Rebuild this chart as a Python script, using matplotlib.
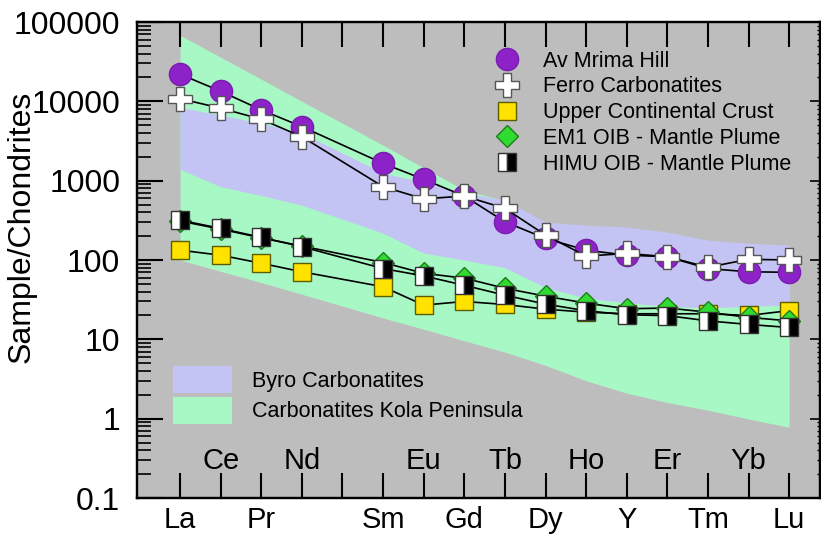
import numpy as np
import matplotlib.pyplot as plt
import matplotlib.transforms as mtransforms
from matplotlib.lines import Line2D
from matplotlib.patches import Patch
from matplotlib.ticker import LogLocator, NullFormatter

plt.rcParams['font.family'] = ['Liberation Sans', 'DejaVu Sans']

# REE order used on the diagram (Pm has a tick but no data)
elements = ['La', 'Ce', 'Pr', 'Nd', 'Pm', 'Sm', 'Eu', 'Gd', 'Tb', 'Dy', 'Ho', 'Y', 'Er', 'Tm', 'Yb', 'Lu']
inner_labels = ['Ce', 'Nd', 'Eu', 'Tb', 'Ho', 'Er', 'Yb']

# sample / chondrite values
mrima = [22000, 13400, 7800, 4800, None, 1650, 1040, 640, 303, 187, 133, 115, 110, 78, 71, 70]
ferro = [10800, 8200, 5950, 3580, None, 840, 590, 640, 448, 206, 112, 121, 110, 81, 102, 100]
ucc = [133, 115, 91, 71, None, 46, 27, 30, 27.5, 24, 22, 21, 21, 21, 20, 23]
em1 = [310, 245, 190, 150, None, 93, 68, 59, 44, 35, 28.6, 24.3, 24.8, 22, 18.9, 17.1]
himu = [318, 250, 193, 147, None, 78, 63, 48, 36, 27.8, 22.9, 20.4, 19.9, 17.1, 15.4, 14.1]

# reference fields
byro_hi = [8400, 6700, 5300, 3980, None, 1250, 950, 700, 570, 300, 275, 260, 225, 178, 163, 154]
byro_lo = [1390, 840, 650, 490, None, 218, 122, 100, 80, 45, 33, 29, 26, 25, 26, 27]
kola_hi = [68000, 36000, 19000, 10000, None, 2800, 1450, 760, 560, 290, 270, 255, 215, 175, 160, 150]
kola_lo = [100, 72, 52, 37, None, 18.6, 13.4, 9.6, 6.9, 4.7, 3.0, 2.1, 1.6, 1.28, 0.99, 0.78]

ytick_vals = [0.1, 1, 10, 100, 1000, 10000, 100000]
ytick_text = ['0.1', '1', '10', '100', '1000', '10000', '100000']


def arr(v):
    return np.array([np.nan if a is None else a for a in v], dtype=float)


pos = np.arange(len(elements))
has = np.array([e != 'Pm' for e in elements])
xs = pos[has]

fig = plt.figure(figsize=(8.21, 5.34), dpi=100)
ax = fig.add_axes([137 / 821, 36 / 534, 683 / 821, 476 / 534])
ax.set_facecolor('#bdbdbd')
ax.set_yscale('log')

ax.fill_between(xs, arr(kola_lo)[has], arr(kola_hi)[has], color='#a8f8c6', lw=0, zorder=1)
ax.fill_between(xs, arr(byro_lo)[has], arr(byro_hi)[has], color='#c4c4f4', lw=0, zorder=1.5)

line_kw = dict(color='black', lw=1.2)
ax.plot(xs, arr(ucc)[has], marker='s', ms=13, mfc='#ffe200', mec='#5c5c00', mew=1, zorder=3, **line_kw)
ax.plot(xs, arr(em1)[has], marker='D', ms=11, mfc='#30dc30', mec='#1d7d1d', mew=1, zorder=4, **line_kw)
ax.plot(xs, arr(himu)[has], marker='s', ms=13, fillstyle='left', mfc='white', mfcalt='black',
        mec='#333333', mew=1, zorder=5, **line_kw)
ax.plot(xs, arr(mrima)[has], marker='o', ms=16, mfc='#8e22c9', mec='#7a1cae', mew=1, zorder=6, **line_kw)
ax.plot(xs, arr(ferro)[has], marker='P', ms=17, mfc='white', mec='#555555', mew=1, zorder=7, **line_kw)

ax.set_xlim(-1.06, 15.76)
ax.set_ylim(0.1, 100000)

# x ticks: alternate labels, the odd ones sit inside the axes
ax.set_xticks(pos)
ax.set_xticklabels(['' if (e in inner_labels or e == 'Pm') else e for e in elements])
ax.tick_params(axis='x', which='major', direction='in', length=18, width=1.5,
               top=True, bottom=True, labelsize=21, pad=6)
trans = mtransforms.blended_transform_factory(ax.transData, ax.transAxes)
for i, e in enumerate(elements):
    if e in inner_labels:
        ax.text(i, 0.078, e, transform=trans, ha='center', va='center', fontsize=21)

ax.set_yticks(ytick_vals)
ax.set_yticklabels(ytick_text)
ax.yaxis.set_minor_locator(LogLocator(base=10, subs=np.arange(2, 10)))
ax.yaxis.set_minor_formatter(NullFormatter())
ax.tick_params(axis='y', which='major', direction='in', length=19, width=1.5,
               left=True, right=False, labelsize=23, pad=12)
ax.tick_params(axis='y', which='minor', direction='in', length=10, width=1.2, left=True, right=False)

# right side has its own short ticks
rax = ax.twinx()
rax.set_yscale('log')
rax.set_ylim(0.1, 100000)
rax.set_yticks(ytick_vals)
rax.yaxis.set_minor_locator(LogLocator(base=10, subs=np.arange(2, 10)))
rax.tick_params(axis='y', which='major', direction='in', length=7, width=1.2, labelright=False)
rax.tick_params(axis='y', which='minor', direction='in', length=2, width=1.0, labelright=False)
rax.yaxis.set_minor_formatter(NullFormatter())

for sp in list(ax.spines.values()) + list(rax.spines.values()):
    sp.set_linewidth(1.6)

ax.set_ylabel('Sample/Chondrites', fontsize=23)
ax.yaxis.set_label_coords(-0.147, 0.57)

handles = [
    Line2D([], [], ls='none', marker='o', ms=16, mfc='#8e22c9', mec='#7a1cae'),
    Line2D([], [], ls='none', marker='P', ms=17, mfc='white', mec='#555555'),
    Line2D([], [], ls='none', marker='s', ms=13, mfc='#ffe200', mec='#5c5c00'),
    Line2D([], [], ls='none', marker='D', ms=11, mfc='#30dc30', mec='#1d7d1d'),
    Line2D([], [], ls='none', marker='s', ms=13, fillstyle='left', mfc='white', mfcalt='black', mec='#333333'),
]
names = ['Av Mrima Hill', 'Ferro Carbonatites', 'Upper Continental Crust',
         'EM1 OIB - Mantle Plume', 'HIMU OIB - Mantle Plume']
leg1 = rax.legend(handles, names, loc='upper left', bbox_to_anchor=(0.513, 0.958), frameon=False,
                  fontsize=15.5, handlelength=1.0, handletextpad=1.17, labelspacing=0.22,
                  borderaxespad=0)

band_handles = [Patch(facecolor='#c4c4f4', lw=0), Patch(facecolor='#a8f8c6', lw=0)]
band_names = ['Byro Carbonatites', 'Carbonatites Kola Peninsula']
leg2 = rax.legend(band_handles, band_names, loc='upper left', bbox_to_anchor=(0.040, 0.296),
                  frameon=False, fontsize=15.5, handlelength=2.74, handleheight=1.6,
                  handletextpad=0.93, labelspacing=0.15, borderaxespad=0)
rax.add_artist(leg1)

fig.savefig('out.png', dpi=100)
